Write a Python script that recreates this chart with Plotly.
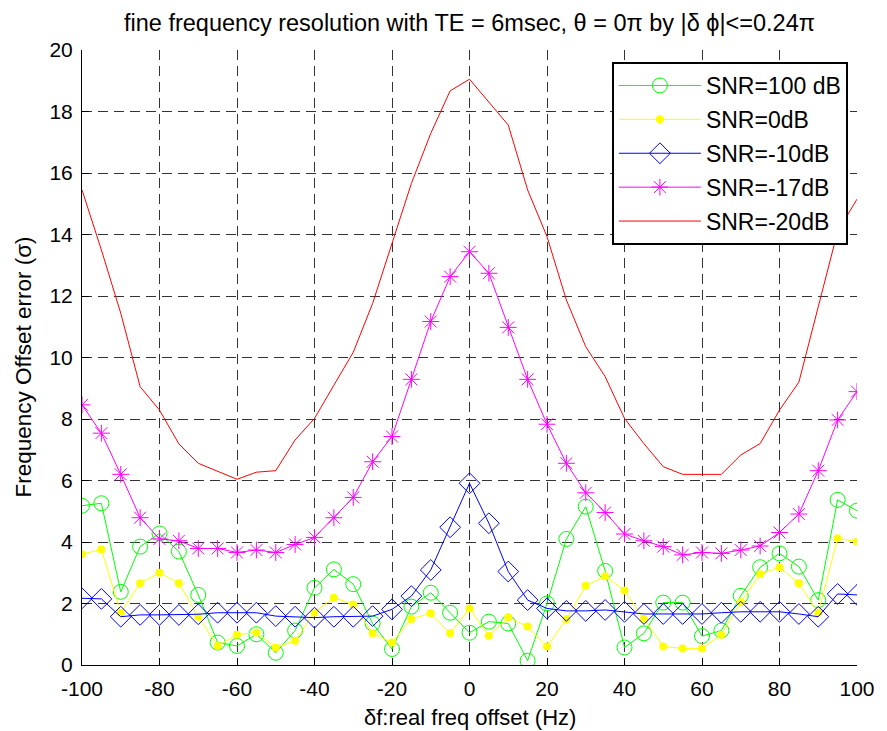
import plotly.graph_objects as go

freq = list(range(-100, 105, 5))

snr100 = [5.18, 5.26, 2.38, 3.85, 4.28, 3.69, 2.28, 0.73, 0.62, 1.0, 0.40, 1.12, 2.51, 3.11, 2.63, 1.35, 0.52, 1.9, 2.35, 1.7,
          1.05, 1.41, 1.35, 0.14, 2.0, 4.1, 5.15, 3.06, 0.57, 1.03, 2.03, 2.03, 0.94, 1.12, 2.25, 3.18, 3.63, 3.2, 2.11, 5.37, 5.02]
snr0 = [3.6, 3.76, 1.70, 2.66, 3.0, 2.66, 1.57, 0.62, 0.98, 1.06, 0.57, 0.79, 1.71, 2.19, 1.97, 1.03, 0.73, 1.5, 1.68, 1.03,
        1.84, 0.95, 1.55, 1.25, 0.6, 1.49, 2.58, 2.89, 2.42, 1.5, 0.6, 0.54, 0.54, 0.98, 2.04, 2.95, 3.18, 2.66, 1.70, 4.12, 4.01]
snr_m10 = [2.17, 2.15, 1.57, 1.63, 1.63, 1.63, 1.65, 1.70, 1.70, 1.70, 1.59, 1.57, 1.54, 1.57, 1.57, 1.59, 1.81, 2.24, 3.09, 4.48,
           5.91, 4.61, 3.04, 2.11, 1.84, 1.76, 1.76, 1.79, 1.73, 1.66, 1.66, 1.66, 1.66, 1.70, 1.73, 1.73, 1.73, 1.66, 1.57, 2.31, 2.28]
snr_m17 = [8.46, 7.54, 6.2, 4.79, 4.1, 4.04, 3.79, 3.79, 3.66, 3.74, 3.66, 3.92, 4.15, 4.79, 5.45, 6.61, 7.43, 9.29, 11.17, 12.63,
           13.44, 12.74, 10.98, 9.29, 7.83, 6.56, 5.60, 4.96, 4.26, 4.04, 3.85, 3.58, 3.66, 3.63, 3.74, 3.87, 4.31, 4.91, 6.32, 7.97, 8.89]
snr_m20 = [15.45, 13.5, 11.44, 9.05, 8.29, 7.19, 6.56, 6.3, 6.04, 6.27, 6.32, 7.32, 8.02, 9.1, 10.17, 11.76, 13.71, 15.66, 17.29, 18.67,
           19.05, 18.3, 17.56, 15.45, 13.93, 11.87, 10.35, 9.38, 8.02, 7.2, 6.45, 6.2, 6.2, 6.2, 6.83, 7.2, 8.29, 9.2, 11.65, 14.1, 15.15]

x_ticks = list(range(-100, 101, 20))
y_ticks = list(range(0, 21, 2))

FONT = "Liberation Sans, Arial, sans-serif"

fig = go.Figure()
fig.add_trace(go.Scatter(x=freq, y=snr100, name="SNR=100 dB", mode="lines+markers", legendgroup="a",
                         line=dict(color="#00FF00", width=1),
                         marker=dict(symbol="circle-open", size=15, color="#00FF00", line=dict(width=1, color="#00FF00"))))
fig.add_trace(go.Scatter(x=freq, y=snr0, name="SNR=0dB", mode="lines+markers", legendgroup="b",
                         line=dict(color="#FFFF00", width=1),
                         marker=dict(symbol="circle", size=8, color="#FFFF00", line=dict(width=0))))
fig.add_trace(go.Scatter(x=freq, y=snr_m10, name="SNR=-10dB", mode="lines+markers", legendgroup="c",
                         line=dict(color="#0000FF", width=1),
                         marker=dict(symbol="diamond-open", size=16, color="#0000FF", line=dict(width=1, color="#0000FF"))))
fig.add_trace(go.Scatter(x=freq, y=snr_m17, name="SNR=-17dB", mode="lines+markers", legendgroup="d",
                         line=dict(color="#FF00FF", width=1),
                         marker=dict(symbol="asterisk-open", size=14, color="#FF00FF", line=dict(width=1, color="#FF00FF"))))
fig.add_trace(go.Scatter(x=freq, y=snr_m20, name="SNR=-20dB", mode="lines", legendgroup="e",
                         line=dict(color="#FF0000", width=1)))

fig.update_layout(
    width=887, height=731,
    margin=dict(l=82, r=24, t=50, b=66),
    paper_bgcolor="white", plot_bgcolor="white",
    font=dict(family=FONT, size=21, color="black"),
    title=dict(text="fine frequency resolution with TE = 6msec, θ = 0π by |δ ϕ|<=0.24π",
               x=0.5, xref="paper", y=1 - 23 / 731, yref="container", yanchor="middle", xanchor="center",
               font=dict(family=FONT, size=23.5, color="black")),
    showlegend=True,
    legend=dict(x=(616 - 82) / 781, y=(665 - 62) / 615, xanchor="left", yanchor="top",
                bgcolor="white", bordercolor="black", borderwidth=2,
                font=dict(family=FONT, size=23, color="black"), itemwidth=82,
                entrywidth=150, tracegroupgap=1),
    annotations=[
        dict(text="δf:real freq offset (Hz)", x=0.5, y=-52 / 615, xref="paper", yref="paper",
             showarrow=False, xanchor="center", yanchor="middle", font=dict(family=FONT, size=22)),
        dict(text="Frequency Offset error (σ)", x=(24 - 82) / 781, y=(665 - 367) / 615, xref="paper", yref="paper",
             showarrow=False, textangle=-90, xanchor="center", yanchor="middle", font=dict(family=FONT, size=22.5)),
    ],
)
fig.update_xaxes(range=[-100, 100], tickvals=x_ticks, ticktext=[str(v) for v in x_ticks],
                 showgrid=True, gridcolor="#333333", griddash="10px,6px", gridwidth=1,
                 showline=True, linecolor="black", linewidth=1, mirror=False,
                 ticks="inside", ticklen=7, tickcolor="black", zeroline=False,
                 ticklabelstandoff=5,
                 tickfont=dict(family=FONT, size=21))
fig.update_yaxes(range=[0, 20], tickvals=y_ticks, ticktext=[str(v) for v in y_ticks],
                 showgrid=True, gridcolor="#333333", griddash="10px,6px", gridwidth=1,
                 showline=True, linecolor="black", linewidth=1, mirror=False,
                 ticks="inside", ticklen=7, tickcolor="black", zeroline=False,
                 ticklabelstandoff=4,
                 tickfont=dict(family=FONT, size=21))

fig.write_html("out.html")
